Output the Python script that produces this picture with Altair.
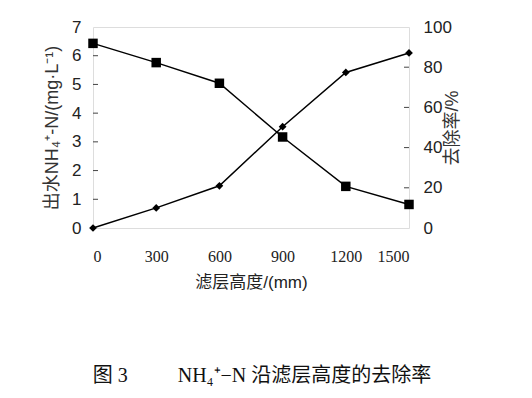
import altair as alt
import pandas as pd

heights = [0, 300, 600, 900, 1200, 1500]
nh4 = [6.43, 5.76, 5.04, 3.17, 1.45, 0.82]
removal = [0, 10, 21, 50.4, 77.4, 87.1]
left_ticks = [1, 2, 3, 4, 5, 6]
right_ticks = [20, 40, 60, 80]

df = pd.DataFrame({"h": heights, "nh4": nh4, "rem": removal})
lt = pd.DataFrame({"v": left_ticks})
rt = pd.DataFrame({"v": right_ticks})

sans = "Liberation Sans, Noto Sans CJK SC"
serif = "Liberation Serif, Noto Sans CJK SC"

xaxis = alt.Axis(values=heights, format="d", title="滤层高度/(mm)", grid=False,
                 domain=False, ticks=False, labelFont=serif,
                 labelFontSize=16, labelColor="#222", labelPadding=20,
                 titleFont=sans, titleFontSize=17, titleFontWeight="normal",
                 titleColor="#222", titlePadding=10)
xscale = alt.Scale(domain=[0, 1500], nice=False)
xenc = alt.X("h:Q", scale=xscale, axis=xaxis)

yl_scale = alt.Scale(domain=[0, 7], nice=False)
yr_scale = alt.Scale(domain=[0, 100], nice=False)

yl_axis = alt.Axis(values=list(range(8)), format="d", title="出水NH₄⁺-N/(mg·L⁻¹)",
                   grid=False, domain=False, ticks=False, labelFont=sans,
                   labelFontSize=17, labelColor="#222", labelPadding=12,
                   titleFont=sans, titleFontSize=18, titleFontWeight="normal",
                   titleColor="#333", titlePadding=10)
yr_axis = alt.Axis(orient="right", values=[0, 20, 40, 60, 80, 100], format="d",
                   title="去除率/%", grid=False, domain=False, ticks=False,
                   labelFont=sans, labelFontSize=17, labelColor="#222",
                   labelPadding=14, titleFont=sans, titleFontSize=18,
                   titleFontWeight="normal", titleColor="#333",
                   titleAngle=270, titlePadding=10)

base = alt.Chart(df)
left_line = base.mark_line(color="black", strokeWidth=1.5).encode(
    x=xenc, y=alt.Y("nh4:Q", scale=yl_scale, axis=yl_axis))
left_pts = base.mark_square(color="black", size=90, opacity=1).encode(
    x=xenc, y=alt.Y("nh4:Q", scale=yl_scale, axis=yl_axis))
ltick = alt.Chart(lt).mark_rule(color="#444", strokeWidth=1).encode(
    y=alt.Y("v:Q", scale=yl_scale, axis=yl_axis), x=alt.value(0), x2=alt.value(5))
left = alt.layer(left_line, left_pts, ltick)

right_line = base.mark_line(color="black", strokeWidth=1.5).encode(
    x=xenc, y=alt.Y("rem:Q", scale=yr_scale, axis=yr_axis))
right_pts = base.mark_point(shape="diamond", filled=True, color="black", size=60,
                            opacity=1).encode(
    x=xenc, y=alt.Y("rem:Q", scale=yr_scale, axis=yr_axis))
rtick = alt.Chart(rt).mark_rule(color="#444", strokeWidth=1).encode(
    y=alt.Y("v:Q", scale=yr_scale, axis=yr_axis), x=alt.value(311), x2=alt.value(316))
right = alt.layer(right_line, right_pts, rtick)

caption = "图 3" + "\u00a0" * 10 + "NH₄⁺−N 沿滤层高度的去除率"

chart = alt.layer(left, right).resolve_scale(y="independent").properties(
    width=316, height=201,
    autosize=alt.AutoSizeParams(type="none"),
    padding={"left": 85, "top": 19, "right": 100, "bottom": 160},
    title=alt.TitleParams(caption, orient="bottom",
                          anchor="middle", font=serif, fontSize=20,
                          fontWeight="normal", color="#111", offset=76, dx=11),
).configure_view(stroke="black", strokeWidth=1.5).configure(background="white")

chart.save("out.html", embed_options={"renderer": "svg", "actions": False})
